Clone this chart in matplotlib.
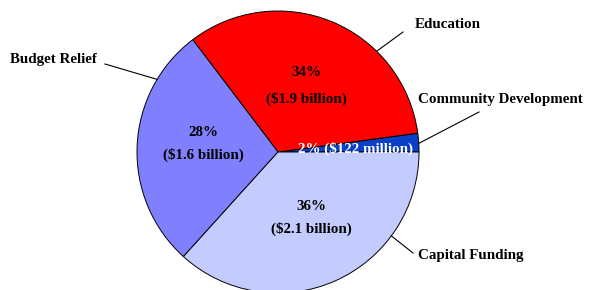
import numpy as np
import matplotlib.pyplot as plt

# data (billions of dollars)
categories = ['Community Development', 'Education', 'Budget Relief', 'Capital Funding']
amounts = [0.122, 1.9, 1.6, 2.1]
pct_labels = ['2%', '34%', '28%', '36%']
amount_labels = ['($122 million)', '($1.9 billion)', '($1.6 billion)', '($2.1 billion)']
colors = ['#0A3FC8', '#FF0000', '#8080FF', '#C4CCFF']

# layout in pixel units
W, H = 589, 290
cx, cy, R = 278, 138, 141
leader_angles = [3.5, 45.6, 149, 323.5]
label_pos = [(418, 190), (415, 266), (10, 230), (418, 34)]
leader_end = [(479, 178), (403, 258), (105, 226), (413, 37)]
inner_shift = [(4, -2), (0, -2), (-1, 5), (4, 1)]
inner_spacing = [1.0, 2.2, 1.85, 1.85]

plt.rcParams['font.family'] = ['Liberation Serif', 'DejaVu Serif']
fig = plt.figure(figsize=(W / 100, H / 100), dpi=100)
ax = fig.add_axes([0, 0, 1, 1])

wedges, _ = ax.pie(amounts, colors=colors, startangle=0, counterclock=True,
                   center=(cx, cy), radius=R, frame=True,
                   wedgeprops=dict(edgecolor='black', linewidth=0.7))
ax.set_xlim(0, W)
ax.set_ylim(0, H)
ax.axis('off')

# labels inside the wedges
for i, w in enumerate(wedges):
    mid = np.deg2rad((w.theta1 + w.theta2) / 2)
    x = cx + 0.52 * R * np.cos(mid) + inner_shift[i][0]
    y = cy + 0.52 * R * np.sin(mid) + inner_shift[i][1]
    if i == 0:
        ax.text(x, y, pct_labels[i] + ' ' + amount_labels[i], color='white',
                fontsize=10.8, fontweight='bold', ha='center', va='center')
    else:
        ax.text(x, y, pct_labels[i] + '\n' + amount_labels[i], color='black',
                fontsize=10.8, fontweight='bold', ha='center', va='center',
                linespacing=inner_spacing[i])

# outer labels with leader lines
for i, name in enumerate(categories):
    a = np.deg2rad(leader_angles[i])
    x0, y0 = cx + R * np.cos(a), cy + R * np.sin(a)
    ax.plot([x0, leader_end[i][0]], [y0, leader_end[i][1]], color='black', lw=0.8)
    ax.text(label_pos[i][0], label_pos[i][1], name, fontsize=10.8, fontweight='bold',
            ha='left', va='center')

fig.savefig('out.png', dpi=100)
